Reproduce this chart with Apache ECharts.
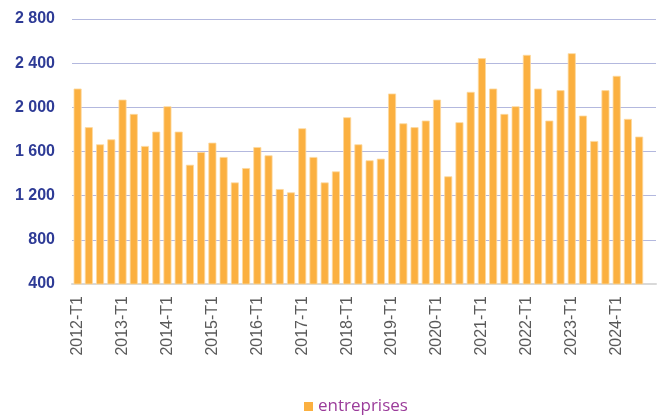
<!DOCTYPE html>
<html>
<head>
<meta charset="utf-8">
<script src="https://cdn.jsdelivr.net/npm/echarts@6/dist/echarts.min.js"></script>
<style>html,body{margin:0;padding:0;background:#fff}#c{width:663px;height:420px}</style>
</head>
<body>
<div id="c"></div>
<script>
const years = [2012,2013,2014,2015,2016,2017,2018,2019,2020,2021,2022,2023,2024];
const quarters = ['T1','T2','T3','T4'];
const categories = [];
years.forEach(y => quarters.forEach(q => categories.push(y + '-' + q)));
const seriesName = 'entreprises';
const values = [
  2170, 1820, 1665, 1710,
  2070, 1940, 1650, 1780,
  2010, 1780, 1480, 1595,
  1680, 1550, 1320, 1450,
  1640, 1565, 1260, 1230,
  1810, 1550, 1320, 1420,
  1910, 1665, 1520, 1535,
  2125, 1855, 1820, 1880,
  2070, 1375, 1865, 2140,
  2445, 2170, 1940, 2010,
  2475, 2170, 1880, 2155,
  2490, 1925, 1695, 2155,
  2285, 1895, 1735, null
];
const yTicks = [400, 800, 1200, 1600, 2000, 2400, 2800];

const chart = echarts.init(document.getElementById('c'), null, {renderer: 'canvas'});
chart.setOption({
  animation: false,
  grid: {left: 72, right: 7, top: 19, bottom: 136, containLabel: false},
  legend: {
    data: [seriesName],
    top: 398,
    left: 304,
    padding: [0, 0, 0, 0],
    icon: 'rect',
    itemWidth: 9,
    itemHeight: 9,
    itemGap: 5,
    itemStyle: {color: '#FBB040', borderWidth: 0},
    textStyle: {color: '#9B3C9A', fontSize: 17, fontFamily: '"Open Sans", sans-serif', padding: [0, 0, 0, 0]}
  },
  xAxis: {
    type: 'category',
    data: categories,
    axisLine: {show: true, lineStyle: {color: '#D9D9D9', width: 2}},
    axisTick: {show: false},
    axisLabel: {
      interval: 3,
      rotate: 90,
      margin: 12,
      color: '#595959',
      fontSize: 16,
      fontFamily: '"Liberation Sans", Arial, sans-serif'
    }
  },
  yAxis: {
    type: 'value',
    min: yTicks[0],
    max: yTicks[yTicks.length - 1],
    interval: 400,
    axisLine: {show: false},
    axisTick: {show: false},
    splitLine: {lineStyle: {color: '#B3B8DE', width: 1}},
    axisLabel: {
      margin: 17,
      color: '#2E3B96',
      fontSize: 16,
      fontWeight: 'bold',
      fontFamily: '"Liberation Sans", Arial, sans-serif',
      formatter: v => String(v).replace(/\B(?=(\d{3})+(?!\d))/g, ' ')
    }
  },
  series: [{
    name: seriesName,
    type: 'bar',
    data: values,
    barWidth: 8,
    itemStyle: {color: '#FBB040', borderColor: '#FDD9A0', borderWidth: 0.8}
  }]
});
</script>
</body>
</html>
